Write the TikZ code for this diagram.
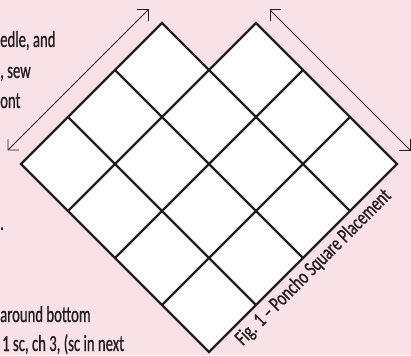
\documentclass[tikz,border=0pt]{standalone}
\usepackage{fontspec}
\setmainfont[FakeStretch=0.64, FakeBold=0.7]{Carlito}
\newfontfamily\capfont[FakeStretch=0.73, FakeBold=0.6]{Carlito}
\usetikzlibrary{arrows.meta}
\definecolor{paper}{RGB}{248,226,231}
\definecolor{ink}{RGB}{35,31,32}
\begin{document}
\begin{tikzpicture}[x=1pt, y=1pt,
    every node/.style={inner sep=0pt, text=ink},
    note/.style={anchor=base west, font=\fontsize{23}{26}\selectfont},
    caption/.style={anchor=base, rotate=45, font=\capfont\fontsize{21}{24}\selectfont},
    grid/.style={draw=ink, line width=2.4pt},
    dimarrow/.style={{Straight Barb[angle=90:11pt]}-{Straight Barb[angle=90:11pt]}, draw=ink, line width=0.9pt}
]
\fill[paper] (0,0) rectangle (411,355);
\useasboundingbox (0,0) rectangle (411,355);
% page text cut off at the left
\node[note] (t1) at (0,308) {edle, and};
\node[note] (t2) at (0,277) {, sew};
\node[note] (t3) at (0,247) {ont};
\node[note] (t4) at (0,125) {.};
\node[note] (t5) at (0,33)  {around bottom};
\node[note] (t6) at (2,4)   {1 sc, ch 3, (sc in next};
% outline of the 15 squares
\coordinate (B)  at (209,3);
\coordinate (L)  at (21,191);
\coordinate (TL) at (162,332);
\coordinate (N)  at (209,285);
\coordinate (TR) at (256,332);
\coordinate (R)  at (397,191);
\filldraw[grid, fill=white] (B) -- (L) -- (TL) -- (N) -- (TR) -- (R) -- cycle;
\foreach \k/\m in {1/4, 2/4, 3/3} {
    \draw[grid] ([shift={(47*\k,47*\k)}]B) -- ++(-47*\m,47*\m);
    \draw[grid] ([shift={(-47*\k,47*\k)}]B) -- ++(47*\m,47*\m);
}
\draw[dimarrow] ([shift={(-13.5,13.5)}]L) -- ([shift={(-13.5,13.5)}]TL);
\draw[dimarrow] ([shift={(13.5,13.5)}]TR) -- ([shift={(13.5,13.5)}]R);
\node[caption] (cap) at (317.5,83.5) {Fig. 1 \textendash{} Poncho Square Placement};
\end{tikzpicture}
\end{document}
